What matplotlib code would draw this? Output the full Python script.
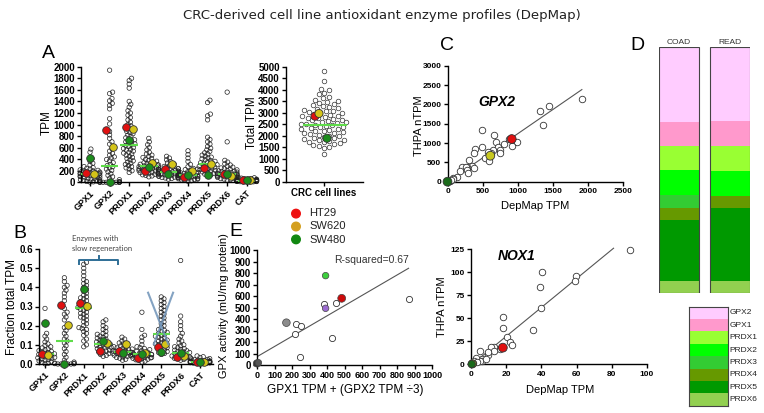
import numpy as np
import matplotlib
matplotlib.use("Agg")
import matplotlib.pyplot as plt

plt.rcParams['font.family'] = ['Liberation Sans', 'DejaVu Sans']

genes = ['GPX1', 'GPX2', 'PRDX1', 'PRDX2', 'PRDX3', 'PRDX4', 'PRDX5', 'PRDX6', 'CAT']

# ---- panel A: TPM per cell line
a_gpx1 = [575, 520, 410, 365, 330, 300, 272, 255, 241, 228, 215, 207, 198, 190, 183, 176, 170, 164, 158, 152, 147, 141,
          136, 130, 124, 118, 113, 106, 99, 93, 87, 80, 72, 66, 57, 48, 41, 31, 22, 14, 8, 3]
a_gpx2 = [1940, 1560, 1535, 1450, 1410, 1365, 1330, 1270, 1100, 1010, 880, 820, 760, 700, 660, 580, 540, 500, 470, 440,
          420, 395, 370, 340, 310, 290, 270, 250, 230, 205, 180, 150, 120, 95, 70, 45, 25, 12, 8, 5, 3, 2, 1, 0, 0, 0, 0, 0, 0]
a_prdx1 = [1800, 1760, 1700, 1630, 1400, 1350, 1300, 1240, 1200, 1160, 1120, 1080, 1040, 1000, 975, 950, 930, 905, 880,
           860, 840, 815, 795, 770, 750, 735, 715, 700, 680, 665, 650, 635, 620, 600, 585, 570, 555, 540, 520, 505, 490,
           470, 450, 430, 410, 390, 370, 350, 330, 310, 290, 270, 250, 230, 200, 170]
a_prdx2 = [760, 700, 650, 600, 560, 520, 490, 470, 450, 430, 410, 395, 380, 365, 352, 340, 330, 320, 312, 305, 298, 290,
           283, 276, 270, 263, 256, 250, 243, 236, 230, 223, 216, 210, 203, 196, 190, 182, 175, 168, 160, 150, 140, 130,
           120, 110, 95]
a_prdx3 = [450, 420, 390, 360, 335, 310, 290, 275, 262, 250, 240, 232, 225, 218, 211, 205, 199, 193, 187, 181, 176, 171,
           166, 161, 156, 151, 146, 141, 136, 131, 126, 121, 115, 109, 103, 97, 90, 83, 75, 66, 55]
a_prdx4 = [545, 480, 420, 360, 310, 270, 240, 220, 205, 192, 182, 173, 165, 158, 151, 145, 139, 133, 128, 123, 118, 113,
           108, 103, 98, 93, 88, 83, 78, 73, 67, 61, 55, 48, 41, 34, 26, 18]
a_prdx5 = [1420, 1380, 1180, 1150, 1080, 780, 740, 700, 660, 620, 590, 560, 535, 510, 490, 470, 452, 435, 420, 405, 390,
           376, 362, 350, 338, 326, 315, 305, 295, 285, 275, 265, 256, 247, 238, 229, 220, 210, 200, 190, 180, 168, 155,
           140, 125, 110]
a_prdx6 = [1560, 700, 380, 350, 320, 300, 280, 262, 248, 236, 225, 215, 206, 198, 190, 183, 176, 169, 163, 157, 151, 146,
           141, 136, 131, 126, 121, 116, 111, 106, 101, 96, 90, 84, 78, 71, 64, 56, 47, 38]
a_cat = [85, 78, 72, 66, 61, 57, 53, 49, 46, 43, 40, 38, 36, 34, 32, 30, 28, 26, 25, 23, 21, 19, 17, 15, 13, 11, 9, 7, 5, 3]
a_median = [150, 280, 650, 280, 170, 130, 320, 150, 30]
ht29_a = [165, 910, 960, 200, 228, 100, 245, 150, 40]
sw620_a = [150, 610, 920, 330, 310, 188, 318, 110, 35]
sw480_a = [412, 0, 732, 270, 150, 130, 125, 150, 40]

total_tpm = [4820, 4370, 4060, 3990, 3880, 3820, 3700, 3640, 3580, 3530, 3480, 3420, 3370, 3330, 3290, 3250, 3210, 3170,
             3130, 3100, 3070, 3040, 3010, 2980, 2950, 2920, 2890, 2860, 2830, 2800, 2770, 2740, 2710, 2680, 2650, 2620,
             2590, 2560, 2530, 2500, 2480, 2460, 2440, 2410, 2380, 2350, 2320, 2290, 2260, 2230, 2200, 2170, 2140, 2110,
             2080, 2050, 2020, 1990, 1960, 1930, 1900, 1870, 1840, 1810, 1780, 1750, 1720, 1690, 1650, 1610, 1570, 1530,
             1480, 1220]
total_median = 2480
total_hl = [2860, 2980, 1900]  # HT29, SW620, SW480

# ---- panel B: fraction of total TPM
b_gpx1 = [0.29, 0.16, 0.145, 0.13, 0.115, 0.105, 0.097, 0.09, 0.084, 0.079, 0.074, 0.07, 0.066, 0.062, 0.059, 0.056,
          0.053, 0.05, 0.047, 0.044, 0.041, 0.038, 0.035, 0.032, 0.029, 0.026, 0.023, 0.02, 0.016, 0.012, 0.008, 0.004, 0.001]
b_gpx2 = [0.45, 0.43, 0.41, 0.40, 0.385, 0.37, 0.35, 0.33, 0.29, 0.27, 0.26, 0.245, 0.23, 0.19, 0.175, 0.16, 0.145, 0.13,
          0.12, 0.11, 0.095, 0.08, 0.065, 0.05, 0.035, 0.02, 0.01, 0.005, 0.003, 0.002, 0.001, 0.0, 0.0, 0.0, 0.0, 0.0]
b_prdx1 = [0.53, 0.52, 0.50, 0.48, 0.46, 0.44, 0.43, 0.42, 0.41, 0.40, 0.39, 0.38, 0.37, 0.36, 0.35, 0.345, 0.34, 0.33,
           0.325, 0.32, 0.31, 0.305, 0.30, 0.295, 0.29, 0.285, 0.28, 0.27, 0.265, 0.26, 0.25, 0.245, 0.24, 0.23, 0.22,
           0.21, 0.20, 0.19, 0.185, 0.18, 0.17, 0.16, 0.15, 0.13, 0.12, 0.10, 0.09]
b_prdx2 = [0.23, 0.22, 0.20, 0.19, 0.18, 0.17, 0.16, 0.155, 0.15, 0.145, 0.14, 0.135, 0.13, 0.125, 0.12, 0.115, 0.11,
           0.107, 0.104, 0.10, 0.097, 0.094, 0.09, 0.087, 0.084, 0.08, 0.076, 0.072, 0.068, 0.064, 0.06, 0.055, 0.05,
           0.045, 0.04]
b_prdx3 = [0.14, 0.13, 0.12, 0.11, 0.105, 0.1, 0.095, 0.09, 0.087, 0.084, 0.081, 0.078, 0.075, 0.072, 0.07, 0.068,
           0.066, 0.064, 0.062, 0.06, 0.058, 0.056, 0.054, 0.052, 0.05, 0.048, 0.046, 0.043, 0.04, 0.037, 0.034, 0.03,
           0.025, 0.02]
b_prdx4 = [0.27, 0.18, 0.15, 0.14, 0.12, 0.1, 0.09, 0.085, 0.08, 0.075, 0.07, 0.066, 0.062, 0.059, 0.056, 0.053, 0.05,
           0.048, 0.046, 0.044, 0.042, 0.04, 0.038, 0.036, 0.034, 0.032, 0.03, 0.028, 0.025, 0.022, 0.019, 0.015, 0.01]
b_prdx5 = [0.35, 0.34, 0.33, 0.32, 0.31, 0.30, 0.29, 0.28, 0.27, 0.26, 0.25, 0.24, 0.23, 0.22, 0.21, 0.2, 0.19, 0.18,
           0.175, 0.17, 0.165, 0.16, 0.155, 0.15, 0.145, 0.14, 0.135, 0.13, 0.125, 0.12, 0.115, 0.11, 0.105, 0.1, 0.095,
           0.09, 0.085, 0.08, 0.075, 0.07, 0.065, 0.06, 0.055, 0.05]
b_prdx6 = [0.54, 0.25, 0.22, 0.2, 0.18, 0.16, 0.145, 0.13, 0.12, 0.11, 0.1, 0.095, 0.09, 0.085, 0.08, 0.076, 0.072,
           0.069, 0.066, 0.063, 0.06, 0.057, 0.054, 0.051, 0.048, 0.045, 0.042, 0.039, 0.036, 0.033, 0.03, 0.027, 0.024,
           0.02]
b_cat = [0.042, 0.038, 0.034, 0.031, 0.028, 0.026, 0.024, 0.022, 0.02, 0.018, 0.017, 0.016, 0.015, 0.014, 0.013, 0.012,
         0.011, 0.01, 0.009, 0.008, 0.007, 0.006, 0.005, 0.004, 0.003, 0.002, 0.001]
b_median = [0.05, 0.12, 0.29, 0.105, 0.065, 0.05, 0.155, 0.06, 0.01]
ht29_b = [0.05, 0.31, 0.32, 0.07, 0.07, 0.03, 0.09, 0.035, 0.01]
sw620_b = [0.045, 0.205, 0.305, 0.11, 0.105, 0.06, 0.105, 0.04, 0.01]
sw480_b = [0.215, 0.0, 0.39, 0.12, 0.06, 0.05, 0.065, 0.06, 0.01]

# ---- panel C: GPX2 DepMap vs THPA
c_x = [1914, 1445, 1313, 1365, 497, 661, 882, 985, 915, 811, 694, 718, 741, 647, 624, 577, 750, 497, 389, 380, 530, 591,
       310, 356, 380, 281, 202, 263, 178, 272, 295, 131, 84, 75, 38, 20, 45]
c_y = [2138, 1966, 1836, 1466, 1336, 1198, 1112, 1034, 931, 965, 1034, 905, 819, 819, 733, 776, 733, 888, 836, 733, 603,
       543, 560, 414, 345, 388, 388, 388, 284, 302, 233, 112, 86, 60, 26, 15, 40]
c_hl_x = [915, 610, 0]
c_hl_y = [1103, 672, 0]
c_fit = [-10, 1.25]

# ---- NOX1 DepMap vs THPA
n_x = [40.6, 39.3, 40.0, 59.6, 59.3, 35.0, 18.3, 18.3, 20.4, 22.4, 23.4, 16.3, 13.0, 11.6, 13.0, 9.7, 9.7, 5.2, 6.0, 6.0,
       5.0, 2.8, 1.7, 3.2, 0.9, 8.8, 90.5]
n_y = [100.4, 84, 61, 95.7, 91, 37, 51.8, 39, 29.3, 24.6, 21, 17, 18.5, 18.8, 14, 9.8, 13.8, 14, 5.8, 4, 4, 7.2, 4, 2.9,
       1.1, 5.8, 124]
n_hl_x = [18.1, 0.8, 0.4]
n_hl_y = [18.1, 0.5, 0.2]
n_fit = [-1, 1.57]

# ---- panel E: GPX activity
e_x = [382, 451, 220, 250, 216, 426, 245, 866]
e_y = [530, 536, 354, 339, 267, 232, 70, 574]
e_sp_x = [168, 392, 392, 484, 0, 8]
e_sp_y = [368, 493, 777, 580, 14, 20]
e_sp_col = ['#8c8c8c', '#9b6ad0', '#3ccf3c', '#cc0a0a', '#333333', '#555555']
e_fit = [72, 0.888]

# ---- panel D: composition
d_genes = ['GPX2', 'GPX1', 'PRDX1', 'PRDX2', 'PRDX3', 'PRDX4', 'PRDX5', 'PRDX6']
d_cols = ['#ffccff', '#ff99cc', '#99ff33', '#00ff00', '#33cc33', '#669900', '#009900', '#92d050']
coad = [0.305, 0.095, 0.099, 0.104, 0.051, 0.050, 0.248, 0.047]
read = [0.300, 0.100, 0.102, 0.102, 0.0, 0.049, 0.300, 0.047]

cell_lines = ['HT29', 'SW620', 'SW480']
cl_cols = ['#e01010', '#d4c419', '#1c8c1c']
cl_leg_cols = ['#ee1111', '#d4a020', '#118811']

W, H = 764, 413
fig = plt.figure(figsize=(W / 100, H / 100), dpi=100)


def box(l, t, r, b):
    return [l / W, 1 - b / H, (r - l) / W, (b - t) / H]


def ftext(x, y, s, **kw):
    fig.text(x / W, 1 - y / H, s, **kw)


def style(ax, ls=7):
    for s in ['top', 'right']:
        ax.spines[s].set_visible(False)
    for s in ['left', 'bottom']:
        ax.spines[s].set_linewidth(1.0)
    ax.tick_params(direction='out', length=3, width=1, labelsize=ls, pad=1.5)


def boldticks(ax):
    for lab in ax.get_xticklabels() + ax.get_yticklabels():
        lab.set_fontweight('bold')


def swarm(ypx, d):
    order = np.argsort(ypx)
    px_, py_ = [], []
    offs = np.zeros(len(ypx))
    for i in order:
        y = ypx[i]
        cands = [0.0]
        for a, b in zip(px_, py_):
            dy = y - b
            if abs(dy) < d:
                dx = np.sqrt(d * d - dy * dy)
                cands += [a + dx, a - dx]
        cands.sort(key=abs)
        for c in cands:
            if all((c - a) ** 2 + (y - b) ** 2 >= d * d - 1e-6 for a, b in zip(px_, py_)):
                break
        px_.append(c)
        py_.append(y)
        offs[i] = c
    return offs


def dotplot(ax, lists, medians, hls, ymax, px_per_x, ax_h, d, maxw):
    for i, vals in enumerate(lists):
        v = np.array(vals, dtype=float)
        off = swarm(v / ymax * ax_h, d) / px_per_x
        off = np.clip(off, -maxw, maxw)
        ax.scatter(i + off, v, s=10, facecolor='none', edgecolor='#222222', lw=0.5, zorder=2, clip_on=False)
        ax.plot([i - 0.45, i + 0.45], [medians[i], medians[i]], color='#5fdc4a', lw=1.5, zorder=3,
                solid_capstyle='butt')
    for vals, col, dx in zip(hls, cl_cols, [-0.18, 0.18, 0.0]):
        ax.scatter(np.arange(9) + dx, vals, s=30, color=col, edgecolor='#333333', lw=0.6, zorder=4, clip_on=False)


# ---------- A
axA = fig.add_axes(box(81, 66.7, 255, 182.3))
style(axA)
axA.set_xlim(-0.46, 8.42)
axA.set_ylim(0, 2000)
dotplot(axA, [a_gpx1, a_gpx2, a_prdx1, a_prdx2, a_prdx3, a_prdx4, a_prdx5, a_prdx6, a_cat], a_median,
        [ht29_a, sw620_a, sw480_a], 2000, 19.6, 115.6, 3.3, 0.5)
axA.set_yticks(np.arange(0, 2001, 200))
axA.set_xticks(range(9), genes, rotation=45, ha='right', rotation_mode='anchor')
axA.tick_params(axis='x', labelsize=6.5)
boldticks(axA)
ftext(47, 123, 'TPM', rotation=90, ha='center', va='center', fontsize=8.5)
ftext(48, 53, 'A', fontsize=14, ha='center', va='center')

# ---------- total TPM
axT = fig.add_axes(box(286, 67, 363, 182))
style(axT)
axT.set_xlim(-38, 39)
axT.set_ylim(0, 5000)
tv = np.array(total_tpm, dtype=float)
toff = swarm(tv / 5000 * 115, 5.5)
axT.scatter(np.clip(toff, -30, 30), tv, s=11, facecolor='white', edgecolor='#333333', lw=0.5, zorder=2)
axT.plot([-20, 22], [total_median, total_median], color='#5fdc4a', lw=1.5, zorder=3)
axT.scatter([-9, -5, 3], total_hl, s=34, color=cl_cols, edgecolor='#333333', lw=0.6, zorder=4)
axT.set_yticks(np.arange(0, 5001, 500))
axT.set_xticks([0], ['CRC cell lines'])
boldticks(axT)
ftext(252, 123, 'Total TPM', rotation=90, ha='center', va='center', fontsize=8.5)

# ---------- B
axB = fig.add_axes(box(39, 249, 213, 364))
style(axB)
axB.set_xlim(-0.31, 8.67)
axB.set_ylim(0, 0.6)
dotplot(axB, [b_gpx1, b_gpx2, b_prdx1, b_prdx2, b_prdx3, b_prdx4, b_prdx5, b_prdx6, b_cat], b_median,
        [ht29_b, sw620_b, sw480_b], 0.6, 19.4, 115, 3.3, 0.5)
axB.set_yticks(np.arange(0, 0.61, 0.1))
axB.set_yticklabels(['%.1f' % t for t in np.arange(0, 0.61, 0.1)])
axB.set_xticks(range(9), genes, rotation=45, ha='right', rotation_mode='anchor')
axB.tick_params(axis='x', labelsize=6.5)
boldticks(axB)
axB.plot([1.75, 1.75, 3.76, 3.76], [0.522, 0.543, 0.543, 0.522], color='#2e6e96', lw=1.4, clip_on=False)
axB.plot([2.78, 2.78], [0.543, 0.563], color='#2e6e96', lw=1.4, clip_on=False)
axB.plot([5.32, 6.36], [0.372, 0.104], color='#6f93b8', lw=1.5, alpha=0.85, zorder=5)
axB.plot([6.61, 5.62], [0.372, 0.104], color='#6f93b8', lw=1.5, alpha=0.85, zorder=5)
ftext(72, 238, 'Enzymes with', fontsize=5.5, color='#444444', va='center', family=['Lato', 'DejaVu Sans'])
ftext(72, 248, 'slow regeneration', fontsize=5.5, color='#444444', va='center', family=['Lato', 'DejaVu Sans'])
ftext(12, 307, 'Fraction total TPM', rotation=90, ha='center', va='center', fontsize=8.5)
ftext(20, 233, 'B', fontsize=14, ha='center', va='center')

# ---------- E
axE = fig.add_axes(box(257, 250, 432, 365))
style(axE)
axE.set_xlim(0, 1000)
axE.set_ylim(0, 1000)
axE.scatter(e_x, e_y, s=20, facecolor='white', edgecolor='#333333', lw=0.6, zorder=3)
axE.scatter(e_sp_x, e_sp_y, s=[30, 22, 22, 32, 28, 22], color=e_sp_col, edgecolor='#444444', lw=0.5, zorder=4,
            clip_on=False)
xe = np.array([0, 866])
axE.plot(xe, e_fit[0] + e_fit[1] * xe, color='#555555', lw=0.8, zorder=2)
axE.set_xticks(np.arange(0, 1001, 100))
axE.set_yticks(np.arange(0, 1001, 100))
axE.tick_params(axis='x', labelsize=6.5)
boldticks(axE)
axE.text(440, 885, 'R-squared=0.67', fontsize=7.5, color='#333333')
ftext(345, 390, 'GPX1 TPM + (GPX2 TPM \u00f73)', ha='center', va='center', fontsize=8.5)
ftext(224, 306, 'GPX activity (mU/mg protein)', rotation=90, ha='center', va='center', fontsize=8)
ftext(236, 232, 'E', fontsize=14, ha='center', va='center')

# legend of cell lines
for k, nm in enumerate(cell_lines):
    ftext(309, 213 + 13.5 * k, nm, fontsize=8, va='center', color='#222222')
axL = fig.add_axes(box(288, 205, 304, 248))
axL.set_xlim(0, 1)
axL.set_ylim(3, 0)
axL.scatter([0.5, 0.5, 0.5], [0.6, 1.5, 2.4], s=38, color=cl_leg_cols)
axL.axis('off')

# ---------- C
axC = fig.add_axes(box(447.5, 65.7, 623, 181.7))
style(axC, 6)
axC.set_xlim(0, 2500)
axC.set_ylim(0, 3000)
axC.scatter(c_x, c_y, s=22, facecolor='white', edgecolor='#333333', lw=0.6, zorder=3, clip_on=False)
axC.scatter(c_hl_x, c_hl_y, s=40, color=['#e01010', '#c8c820', '#1a6a1a'], edgecolor='#333333', lw=0.6, zorder=4,
            clip_on=False)
xc = np.array([0, 1914])
axC.plot(xc, c_fit[0] + c_fit[1] * xc, color='#555555', lw=0.8, zorder=2)
axC.set_xticks(np.arange(0, 2501, 500))
axC.set_yticks(np.arange(0, 3001, 500))
boldticks(axC)
axC.text(700, 2050, 'GPX2', fontsize=10, fontweight='bold', style='italic', ha='center', va='center')
ftext(535, 206, 'DepMap TPM', ha='center', va='center', fontsize=8)
ftext(419, 126, 'THPA nTPM', rotation=90, ha='center', va='center', fontsize=8)
ftext(447, 45, 'C', fontsize=14, ha='center', va='center')

# ---------- NOX1
axN = fig.add_axes(box(471, 249.3, 647, 364.3))
style(axN, 6)
axN.set_xlim(0, 100)
axN.set_ylim(0, 125)
axN.scatter(n_x, n_y, s=22, facecolor='white', edgecolor='#333333', lw=0.6, zorder=3, clip_on=False)
axN.scatter(n_hl_x, n_hl_y, s=[40, 34, 28], color=['#e01010', '#c8c820', '#1a6a1a'], edgecolor='#333333', lw=0.6,
            zorder=4, clip_on=False)
xn = np.array([0, 81])
axN.plot(xn, n_fit[0] + n_fit[1] * xn, color='#555555', lw=0.8, zorder=2, clip_on=False)
axN.set_xticks(np.arange(0, 101, 20))
axN.set_yticks(np.arange(0, 126, 25))
boldticks(axN)
axN.text(26, 118, 'NOX1', fontsize=10, fontweight='bold', style='italic', ha='center', va='center')
ftext(560, 390, 'DepMap TPM', ha='center', va='center', fontsize=8)
ftext(442, 307, 'THPA nTPM', rotation=90, ha='center', va='center', fontsize=8)

# ---------- D
axD = fig.add_axes(box(659, 47.3, 750, 293))
axD.set_xlim(0, 91)
axD.set_ylim(1, 0)
for xpos, fr in zip([20, 70.5], [coad, read]):
    bottom = 0
    for v, col in zip(fr, d_cols):
        axD.bar(xpos, v, width=40, bottom=bottom, color=col, edgecolor='none')
        bottom += v
    axD.bar(xpos, bottom, width=40, bottom=0, fill=False, edgecolor='#444444', lw=0.8)
axD.axis('off')
ftext(679, 42.5, 'COAD', fontsize=6, ha='center', va='center', color='#333333')
ftext(730, 42, 'READ', fontsize=6, ha='center', va='center', color='#333333')
ftext(637, 45, 'D', fontsize=14, ha='center', va='center')

axK = fig.add_axes(box(689.3, 306.7, 728.3, 405.7))
axK.barh(range(8), [1] * 8, height=1, color=d_cols, edgecolor='none')
axK.set_xlim(0, 1)
axK.set_ylim(7.5, -0.5)
for s in axK.spines.values():
    s.set_edgecolor('#444444')
    s.set_linewidth(0.8)
axK.set_xticks([])
axK.set_yticks([])
for k, g in enumerate(d_genes):
    axK.text(1.03, k, g, fontsize=6, va='center', ha='left', color='#222222')

ftext(382, 16, 'CRC-derived cell line antioxidant enzyme profiles (DepMap)', ha='center', va='center',
      fontsize=9.5, color='#222222', family=['DejaVu Sans'])

fig.savefig('out.png', dpi=100)
